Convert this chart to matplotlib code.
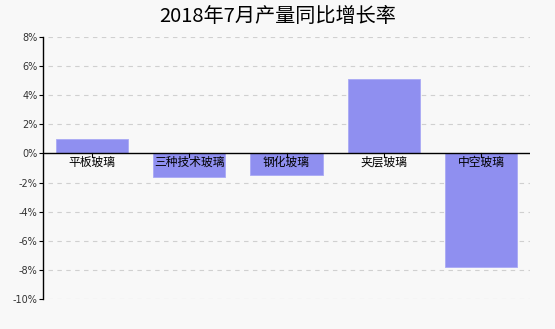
import matplotlib.pyplot as plt
import numpy as np

plt.rcParams['font.family'] = ['Noto Sans CJK SC', 'DejaVu Sans']

categories = ["平板玻璃", "三种技术玻璃", "钢化玻璃", "夹层玻璃", "中空玻璃"]
growth = [1.0, -1.6, -1.5, 5.1, -7.8]
yticks = [-10, -8, -6, -4, -2, 0, 2, 4, 6, 8]

bg = "#f8f8f8"
fig = plt.figure(figsize=(5.55, 3.29), dpi=100, facecolor=bg)
ax = fig.add_axes([43 / 555, 30 / 329, 487 / 555, 262 / 329], facecolor=bg)

x = np.arange(len(categories))
ax.bar(x, growth, width=0.74, color="#8f8ff0", edgecolor="#a9a9f5", linewidth=0.6, zorder=2)

ax.set_xlim(-0.5, len(categories) - 0.5)
ax.set_ylim(-10, 8)
ax.set_yticks(yticks)
ax.set_yticklabels([f"{v}%" for v in yticks], fontsize=7, color="#333333",
                   family=["DejaVu Sans"])
ax.tick_params(axis="y", length=3, width=0.8, pad=1)
ax.set_xticks([])
# dashed grid lines, starting a little to the right of the axis
ax.hlines([v for v in yticks if v != 0], -0.45, len(categories) - 0.5,
          colors="#d0d0d0", linestyles=(0, (4, 4)), linewidth=0.8, zorder=0)

for s in ["top", "right", "bottom"]:
    ax.spines[s].set_visible(False)
ax.spines["left"].set_linewidth(1.0)
ax.axhline(0, color="black", linewidth=1.0, zorder=3)

for i, name in enumerate(categories):
    ax.plot([i, i], [0, -0.25], color="black", linewidth=0.8, zorder=3)
    ax.text(i, -0.6, name, ha="center", va="center", fontsize=8.5, zorder=4)

fig.text(0.5, 0.95, "2018年7月产量同比增长率", ha="center", va="center", fontsize=14.5)

fig.savefig("out.png", dpi=100, facecolor=bg)
